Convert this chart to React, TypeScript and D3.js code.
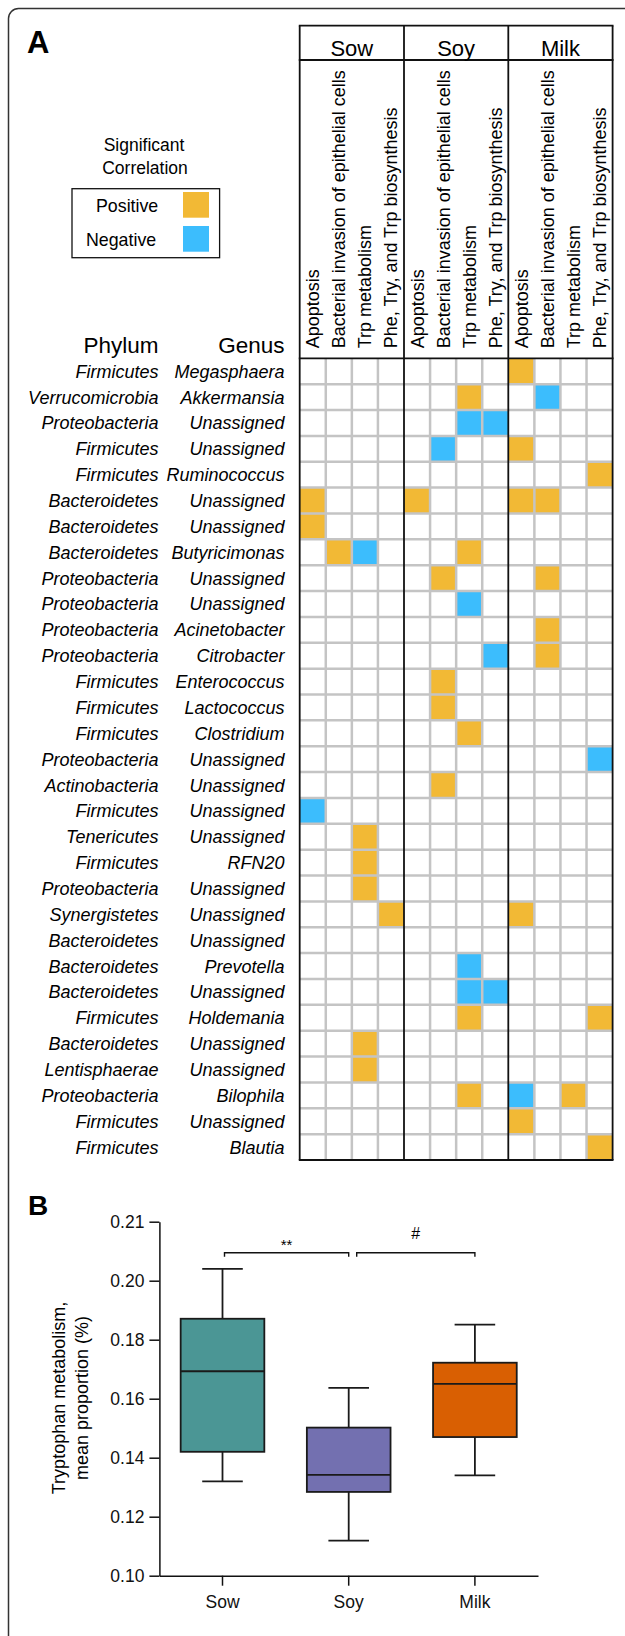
import React, { useEffect, useRef } from "react";
import * as d3 from "d3";

// panel A: correlation grid
const groups = ["Sow", "Soy", "Milk"];
const pathways = [
  "Apoptosis",
  "Bacterial invasion of epithelial cells",
  "Trp metabolism",
  "Phe, Try, and Trp biosynthesis",
];
const phyla = [
  "Firmicutes", "Verrucomicrobia", "Proteobacteria", "Firmicutes", "Firmicutes",
  "Bacteroidetes", "Bacteroidetes", "Bacteroidetes", "Proteobacteria", "Proteobacteria",
  "Proteobacteria", "Proteobacteria", "Firmicutes", "Firmicutes", "Firmicutes",
  "Proteobacteria", "Actinobacteria", "Firmicutes", "Tenericutes", "Firmicutes",
  "Proteobacteria", "Synergistetes", "Bacteroidetes", "Bacteroidetes", "Bacteroidetes",
  "Firmicutes", "Bacteroidetes", "Lentisphaerae", "Proteobacteria", "Firmicutes",
  "Firmicutes",
];
const genera = [
  "Megasphaera", "Akkermansia", "Unassigned", "Unassigned", "Ruminococcus",
  "Unassigned", "Unassigned", "Butyricimonas", "Unassigned", "Unassigned",
  "Acinetobacter", "Citrobacter", "Enterococcus", "Lactococcus", "Clostridium",
  "Unassigned", "Unassigned", "Unassigned", "Unassigned", "RFN20",
  "Unassigned", "Unassigned", "Unassigned", "Prevotella", "Unassigned",
  "Holdemania", "Unassigned", "Unassigned", "Bilophila", "Unassigned",
  "Blautia",
];
// one string per genus, 12 columns (Sow x4, Soy x4, Milk x4): + positive, - negative
const correlations = [
  "........+...",
  "......+..-..",
  "......--....",
  ".....-..+...",
  "...........+",
  "+...+...++..",
  "+...........",
  ".+-...+.....",
  ".....+...+..",
  "......-.....",
  ".........+..",
  ".......-.+..",
  ".....+......",
  ".....+......",
  "......+.....",
  "...........-",
  ".....+......",
  "-...........",
  "..+.........",
  "..+.........",
  "..+.........",
  "...+....+...",
  "............",
  "......-.....",
  "......--....",
  "......+....+",
  "..+.........",
  "..+.........",
  "......+.-.+.",
  "........+...",
  "...........+",
];
const legendItems = ["Positive", "Negative"];

// panel B: box plot
const diets = ["Sow", "Soy", "Milk"];
const whiskerLow = [0.132, 0.1119, 0.134];
const quartile1 = [0.142, 0.1284, 0.147];
const medians = [0.1693, 0.1342, 0.165];
const quartile3 = [0.1871, 0.1502, 0.1722];
const whiskerHigh = [0.204, 0.1637, 0.1851];
const yTickValues = [0.1, 0.12, 0.14, 0.16, 0.18, 0.2, 0.22];
const yTickLabels = ["0.10", "0.12", "0.14", "0.16", "0.18", "0.20", "0.21"];
const comparisons = [
  { from: "Sow", to: "Soy", label: "**" },
  { from: "Soy", to: "Milk", label: "#" },
];

const FONT = "'Liberation Sans', Arial, Helvetica, sans-serif";
const POS = "#F2B935";
const NEG = "#3CBDFD";
const dietColors = ["#4B9695", "#7370B0", "#D95F02"];

const App = () => {
  const svgRef = useRef<SVGSVGElement>(null);

  useEffect(() => {
    const svg = d3.select(svgRef.current);
    svg.selectAll("*").remove();
    svg.style("font-family", FONT);

    // outer frame
    svg
      .append("rect")
      .attr("x", 8.5)
      .attr("y", 8.5)
      .attr("width", 700)
      .attr("height", 1700)
      .attr("rx", 10)
      .attr("fill", "none")
      .attr("stroke", "#333")
      .attr("stroke-width", 1.5);

    svg.append("text").attr("x", 27).attr("y", 53).attr("font-size", 31)
      .attr("font-weight", "bold").text("A");

    // ---------- panel A ----------
    const nCols = groups.length * pathways.length;
    const x = d3.scaleBand<number>().domain(d3.range(nCols)).range([299.7, 612.6]);
    const y = d3.scaleBand<number>().domain(d3.range(genera.length)).range([358.3, 1160]);
    const headerTop = 25.7;
    const headerMid = 60;

    const cells = correlations.flatMap((row, r) =>
      row.split("").map((c, col) => ({ r, col, c })).filter((d) => d.c !== ".")
    );
    svg
      .append("g")
      .selectAll("rect")
      .data(cells)
      .join("rect")
      .attr("x", (d) => x(d.col)!)
      .attr("y", (d) => y(d.r)!)
      .attr("width", x.bandwidth())
      .attr("height", y.bandwidth())
      .attr("fill", (d) => (d.c === "+" ? POS : NEG));

    const grey = svg.append("g").attr("stroke", "#c4c4c4").attr("stroke-width", 2.5);
    grey
      .selectAll("line.v")
      .data(d3.range(1, nCols).filter((c) => c % pathways.length !== 0))
      .join("line")
      .attr("x1", (c) => x(c)!)
      .attr("x2", (c) => x(c)!)
      .attr("y1", y.range()[0])
      .attr("y2", y.range()[1]);
    grey
      .selectAll("line.h")
      .data(d3.range(1, genera.length))
      .join("line")
      .attr("x1", x.range()[0])
      .attr("x2", x.range()[1])
      .attr("y1", (r) => y(r)!)
      .attr("y2", (r) => y(r)!);

    const black = svg.append("g").attr("stroke", "#111").attr("stroke-width", 1.8);
    const vx = [0, 4, 8].map((c) => x(c)!).concat([x.range()[1]]);
    vx.forEach((vxx) =>
      black.append("line").attr("x1", vxx).attr("x2", vxx).attr("y1", headerTop).attr("y2", 1160)
    );
    [headerTop, headerMid, 358.3, 1160].forEach((hy) =>
      black.append("line").attr("x1", x.range()[0] - 0.9).attr("x2", x.range()[1] + 0.9)
        .attr("y1", hy).attr("y2", hy)
    );

    // group labels
    svg
      .append("g")
      .selectAll("text")
      .data(groups)
      .join("text")
      .attr("x", (_, i) => (x(i * 4)! + x(i * 4 + 3)! + x.bandwidth()) / 2)
      .attr("y", 55.5)
      .attr("text-anchor", "middle")
      .attr("font-size", 22)
      .text((d) => d);

    // pathway labels
    svg
      .append("g")
      .selectAll("text")
      .data(d3.range(nCols))
      .join("text")
      .attr("transform", (c) => `translate(${x(c)! + x.bandwidth() / 2 + 6.5},348.3) rotate(-90)`)
      .attr("font-size", 18)
      .text((c) => pathways[c % pathways.length]);

    // row labels
    const rows = svg.append("g").attr("font-size", 18).attr("font-style", "italic")
      .attr("text-anchor", "end");
    rows
      .selectAll("text.p")
      .data(phyla)
      .join("text")
      .attr("x", 158.5)
      .attr("y", (_, i) => y(i)! + y.bandwidth() / 2 + 6.5)
      .text((d) => d);
    rows
      .selectAll("text.g")
      .data(genera)
      .join("text")
      .attr("x", 284.5)
      .attr("y", (_, i) => y(i)! + y.bandwidth() / 2 + 6.5)
      .text((d) => d);

    svg.append("text").attr("x", 158.5).attr("y", 352.7).attr("font-size", 22.5)
      .attr("text-anchor", "end").text("Phylum");
    svg.append("text").attr("x", 284.5).attr("y", 352.7).attr("font-size", 22.5)
      .attr("text-anchor", "end").text("Genus");

    // legend
    svg.append("text").attr("x", 144).attr("y", 151).attr("font-size", 17.5)
      .attr("text-anchor", "middle").text("Significant");
    svg.append("text").attr("x", 145).attr("y", 174).attr("font-size", 17.5)
      .attr("text-anchor", "middle").text("Correlation");
    svg.append("rect").attr("x", 72).attr("y", 188.7).attr("width", 147.6).attr("height", 69)
      .attr("fill", "none").attr("stroke", "#111").attr("stroke-width", 1.3);
    const lg = svg.append("g");
    legendItems.forEach((label, i) => {
      lg.append("rect").attr("x", 183).attr("y", 192 + i * 34).attr("width", 26)
        .attr("height", 25.7).attr("fill", i === 0 ? POS : NEG);
      lg.append("text").attr("x", i === 0 ? 96 : 86).attr("y", 211.5 + i * 34.5)
        .attr("font-size", 17.8).text(label);
    });

    // ---------- panel B ----------
    svg.append("text").attr("x", 28).attr("y", 1215).attr("font-size", 28)
      .attr("font-weight", "bold").text("B");

    const bx = d3.scaleBand().domain(diets).range([159.4, 538])
      .paddingInner(0.337).paddingOuter(0.1685);
    const by = d3.scaleLinear().domain([0.1, 0.22]).range([1575.7, 1221.7]);

    const yAxis = svg
      .append("g")
      .attr("transform", "translate(159.4,0)")
      .call(
        d3.axisLeft(by).tickValues(yTickValues).tickFormat((_, i) => yTickLabels[i])
          .tickSize(10).tickSizeOuter(0).tickPadding(5)
      );
    const xAxis = svg
      .append("g")
      .attr("transform", "translate(0,1575.7)")
      .call(d3.axisBottom(bx).tickSize(10).tickSizeOuter(0).tickPadding(10));
    [yAxis, xAxis].forEach((ax) => {
      ax.attr("font-family", FONT).attr("font-size", 17.5);
      ax.selectAll("path, line").attr("stroke", "#111").attr("stroke-width", 1.5);
      ax.selectAll("text").attr("fill", "#111");
    });

    const cx = (d: string) => bx(d)! + bx.bandwidth() / 2;
    const capW = bx.bandwidth() * 0.485;
    const boxes = svg.append("g").attr("stroke", "#1a1a1a").attr("stroke-width", 1.8);
    diets.forEach((d, i) => {
      const c = cx(d);
      boxes.append("line").attr("x1", c).attr("x2", c)
        .attr("y1", by(whiskerHigh[i])).attr("y2", by(quartile3[i]));
      boxes.append("line").attr("x1", c).attr("x2", c)
        .attr("y1", by(quartile1[i])).attr("y2", by(whiskerLow[i]));
      [whiskerHigh[i], whiskerLow[i]].forEach((v) =>
        boxes.append("line").attr("x1", c - capW / 2).attr("x2", c + capW / 2)
          .attr("y1", by(v)).attr("y2", by(v))
      );
      boxes.append("rect").attr("x", bx(d)!).attr("width", bx.bandwidth())
        .attr("y", by(quartile3[i])).attr("height", by(quartile1[i]) - by(quartile3[i]))
        .attr("fill", dietColors[i]);
      boxes.append("line").attr("x1", bx(d)!).attr("x2", bx(d)! + bx.bandwidth())
        .attr("y1", by(medians[i])).attr("y2", by(medians[i]));
    });

    // significance brackets
    const br = svg.append("g");
    comparisons.forEach((cmp, i) => {
      const x1 = cx(cmp.from) + (i === 0 ? 2 : 8);
      const x2 = cx(cmp.to);
      const top = by(0.2095);
      const drop = by(0.2081);
      br.append("path")
        .attr("d", `M${x1},${drop}V${top}H${x2}V${drop}`)
        .attr("fill", "none").attr("stroke", "#111").attr("stroke-width", 1.4);
      br.append("text")
        .attr("x", (x1 + x2) / 2)
        .attr("y", i === 0 ? 1250 : 1238.5)
        .attr("text-anchor", "middle")
        .attr("font-size", i === 0 ? 15 : 16)
        .text(cmp.label);
    });

    // y title
    const yt = svg.append("text").attr("transform", "translate(0,1398) rotate(-90)")
      .attr("text-anchor", "middle").attr("font-size", 18);
    yt.append("tspan").attr("x", 0).attr("y", 64.5).text("Tryptophan metabolism,");
    yt.append("tspan").attr("x", 0).attr("y", 87.5).text("mean proportion (%)");
  }, []);

  return (
    <svg
      ref={svgRef}
      width={625}
      height={1636}
      style={{ position: "absolute", left: 0, top: 0, display: "block", background: "#fff" }}
    />
  );
};

export default App;
